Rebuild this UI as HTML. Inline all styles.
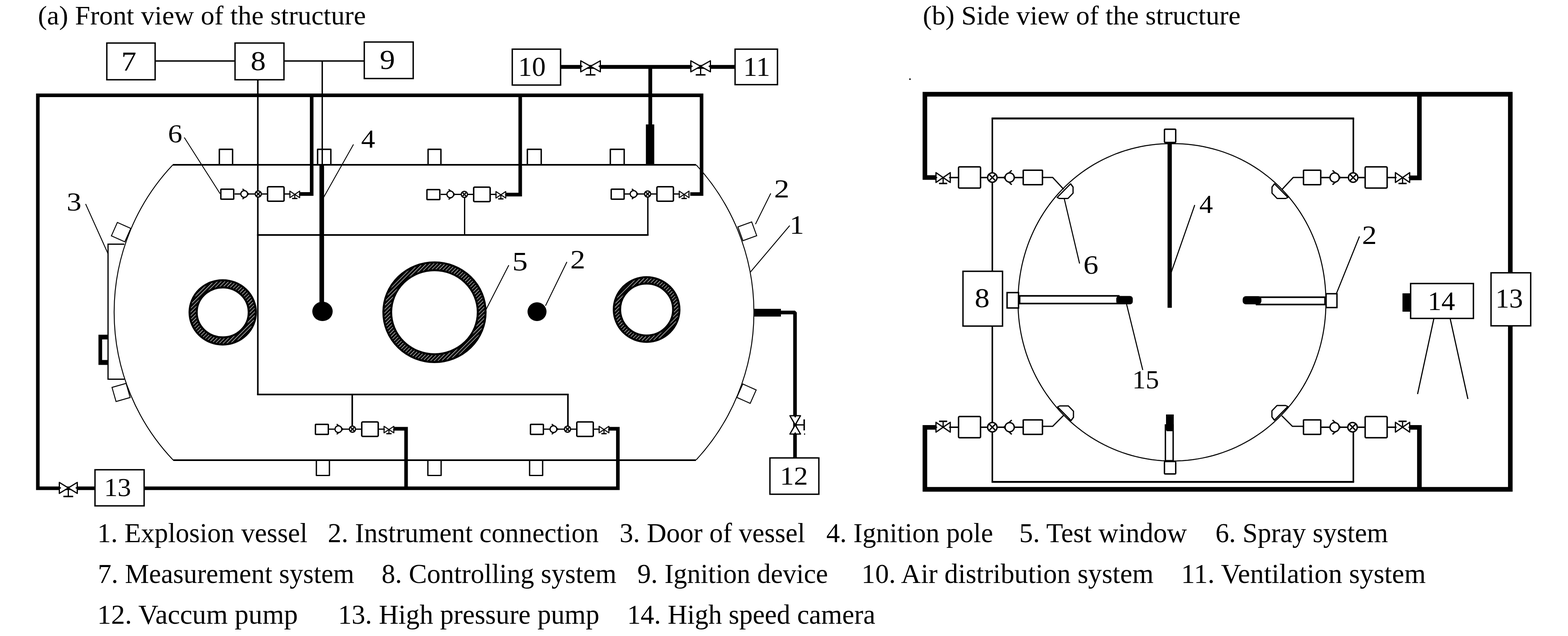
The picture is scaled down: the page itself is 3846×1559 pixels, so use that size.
<!DOCTYPE html>
<html><head><meta charset="utf-8"><title>Structure of the explosion vessel</title>
<style>
html,body{margin:0;padding:0;background:#fff;}
body{width:3846px;height:1559px;overflow:hidden;}
svg{display:block;}
text{stroke:none;fill:#000;font-family:"Liberation Serif",serif;}
</style></head>
<body>
<svg width="3846" height="1559" viewBox="0 0 3846 1559">
<defs>
<pattern id="hatch" width="6.5" height="6.5" patternUnits="userSpaceOnUse" patternTransform="rotate(-45)">
<rect x="0" y="0" width="6.5" height="6.5" fill="#000" stroke="none"/>
<rect x="0" y="0" width="6.5" height="1.1" fill="#fff" stroke="none"/>
</pattern>
</defs>
<rect x="0" y="0" width="3846" height="1559" fill="#fff"/>
<g stroke="#000" fill="none">
<text x="93.06" y="60" font-size="66.4" textLength="804.28" lengthAdjust="spacingAndGlyphs">(a) Front view of the structure</text>
<text x="2263.57" y="60" font-size="66.4" textLength="779.26" lengthAdjust="spacingAndGlyphs">(b) Side view of the structure</text>
<line x1="381" y1="149.5" x2="576" y2="149.5" stroke-width="3.4"/>
<line x1="697" y1="149.5" x2="893" y2="149.5" stroke-width="3.4"/>
<line x1="632.4" y1="196" x2="632.4" y2="967" stroke-width="3.8"/>
<line x1="790.4" y1="149.5" x2="790.4" y2="403" stroke-width="3.4"/>
<line x1="630.5" y1="576" x2="1590.8" y2="576" stroke-width="3.8"/>
<line x1="1589" y1="477" x2="1589" y2="576" stroke-width="3.4"/>
<line x1="1139.6" y1="477" x2="1139.6" y2="576" stroke-width="3.1"/>
<line x1="630.5" y1="967" x2="1394.9" y2="967" stroke-width="3.8"/>
<line x1="1393" y1="967" x2="1393" y2="1052" stroke-width="3.8"/>
<line x1="864" y1="967" x2="864" y2="1052" stroke-width="3.9"/>
<path d="M424 404 A525.6 525.6 0 0 0 425 1128 M1707.5 404 A532.6 532.6 0 0 1 1707.5 1127.5" stroke-width="2.3"/>
<line x1="424" y1="404" x2="1707" y2="404" stroke-width="3.9"/>
<line x1="425" y1="1128" x2="1707" y2="1128" stroke-width="3.9"/>
<path d="M538 403 L538 366 L570.5 366 L570.5 403" stroke-width="3.4" stroke-linejoin="round"/>
<path d="M779 403 L779 366 L811.5 366 L811.5 403" stroke-width="3.4" stroke-linejoin="round"/>
<path d="M1050 403 L1050 366 L1081.5 366 L1081.5 403" stroke-width="3.4" stroke-linejoin="round"/>
<path d="M1293.5 403 L1293.5 366 L1327.5 366 L1327.5 403" stroke-width="3.4" stroke-linejoin="round"/>
<path d="M1497 403 L1497 366 L1531 366 L1531 403" stroke-width="3.4" stroke-linejoin="round"/>
<path d="M776 1128 L776 1165.5 L808 1165.5 L808 1128" stroke-width="3.2" stroke-linejoin="round"/>
<path d="M1049.5 1128 L1049.5 1165.5 L1082 1165.5 L1082 1128" stroke-width="3.2" stroke-linejoin="round"/>
<path d="M1299 1128 L1299 1165.5 L1331 1165.5 L1331 1128" stroke-width="3.2" stroke-linejoin="round"/>
<path d="M354 1196.8 L1515.5 1196.8 L1515.5 1051 L1494 1051" stroke-width="8.8"/>
<path d="M996 1196.8 L996 1051 L966.5 1051" stroke-width="8.8"/>
<path d="M232 1196.8 L92.8 1196.8 L92.8 233.6 L1720.8 233.6 L1720.8 475.7 L1693 475.7" stroke-width="8.8"/>
<path d="M764.5 233.5 L764.5 475.5 L736 475.5" stroke-width="8.8"/>
<path d="M1276 233.5 L1276 477 L1242 477" stroke-width="8.8"/>
<path d="M145.5 1182.5 L145.5 1209.5 L189.5 1182.5 L189.5 1209.5 Z" stroke-width="3" stroke-linejoin="round" fill="#fff"/>
<line x1="167.5" y1="1196" x2="167.5" y2="1217" stroke-width="3"/>
<line x1="155.5" y1="1217" x2="179.5" y2="1217" stroke-width="3.6"/>
<path d="M144.5 1191.6 L150.34 1196 L144.5 1200.4 Z M190.5 1191.6 L184.66 1196 L190.5 1200.4 Z" fill="#000" stroke="none"/>
<rect x="233" y="1151.5" width="120.5" height="88.5" stroke-width="3.4" fill="#fff"/>
<text x="255.15" y="1216.37" font-size="63.24" textLength="66.44" lengthAdjust="spacingAndGlyphs">13</text>
<line x1="1375.5" y1="164" x2="1803" y2="164" stroke-width="9.3"/>
<line x1="1595" y1="164" x2="1595" y2="403" stroke-width="9.3"/>
<line x1="1594.5" y1="305" x2="1594.5" y2="405" stroke-width="20.5"/>
<path d="M1424.5 149 L1424.5 176 L1472.5 149 L1472.5 176 Z" stroke-width="3" stroke-linejoin="round" fill="#fff"/>
<line x1="1448.5" y1="162.5" x2="1448.5" y2="183.5" stroke-width="3"/>
<line x1="1436.5" y1="183.5" x2="1460.5" y2="183.5" stroke-width="3.6"/>
<path d="M1423.5 157.85 L1429.62 162.5 L1423.5 167.15 Z M1473.5 157.85 L1467.38 162.5 L1473.5 167.15 Z" fill="#000" stroke="none"/>
<path d="M1694.5 149 L1694.5 176 L1742.5 149 L1742.5 176 Z" stroke-width="3" stroke-linejoin="round" fill="#fff"/>
<line x1="1718.5" y1="162.5" x2="1718.5" y2="183.5" stroke-width="3"/>
<line x1="1706.5" y1="183.5" x2="1730.5" y2="183.5" stroke-width="3.6"/>
<path d="M1693.5 157.85 L1699.62 162.5 L1693.5 167.15 Z M1743.5 157.85 L1737.38 162.5 L1743.5 167.15 Z" fill="#000" stroke="none"/>
<rect x="1256.5" y="120.5" width="118.5" height="88" stroke-width="3.4" fill="#fff"/>
<text x="1271.06" y="186.32" font-size="68.15" textLength="67.51" lengthAdjust="spacingAndGlyphs">10</text>
<rect x="1803" y="120.5" width="104" height="87" stroke-width="3.4" fill="#fff"/>
<text x="1822.95" y="186" font-size="68.18" textLength="66.16" lengthAdjust="spacingAndGlyphs">11</text>
<rect x="262" y="105.5" width="118.5" height="90" stroke-width="3.4" fill="#fff"/>
<text x="297.61" y="172.5" font-size="68.7" textLength="37.04" lengthAdjust="spacingAndGlyphs">7</text>
<rect x="576.5" y="105.5" width="120" height="90" stroke-width="3.4" fill="#fff"/>
<text x="614.68" y="171.83" font-size="66.67" textLength="37.15" lengthAdjust="spacingAndGlyphs">8</text>
<rect x="893.5" y="103" width="120" height="89.5" stroke-width="3.4" fill="#fff"/>
<text x="931.6" y="169.33" font-size="66.96" textLength="37.47" lengthAdjust="spacingAndGlyphs">9</text>
<line x1="789.2" y1="403" x2="789.2" y2="764" stroke-width="11.3"/>
<ellipse cx="791" cy="763.3" rx="25" ry="23.8" fill="#000" stroke="none"/>
<line x1="575.5" y1="475.5" x2="711.5" y2="475.5" stroke-width="3.2"/>
<rect x="541.7" y="463.7" width="31.6" height="24.6" stroke-width="3.4" fill="#fff" rx="1.5"/>
<path d="M594.85 463.05 L610 475.5 L594.85 487.95" stroke-width="3" stroke-linejoin="round"/>
<circle cx="599" cy="475.5" r="8.3" stroke-width="3" fill="#fff"/>
<circle cx="633.5" cy="475.5" r="7.6" stroke-width="3" fill="#fff"/>
<line x1="628.13" y1="470.13" x2="638.87" y2="480.87" stroke-width="3"/>
<line x1="628.13" y1="480.87" x2="638.87" y2="470.13" stroke-width="3"/>
<rect x="656.3" y="457.8" width="40.4" height="35.4" stroke-width="3.6" fill="#fff" rx="2.5"/>
<path d="M711 468.5 L711 484.5 L735 468.5 L735 484.5 Z" stroke-width="2.6" stroke-linejoin="round" fill="#fff"/>
<line x1="723" y1="476.5" x2="723" y2="486.5" stroke-width="2.6"/>
<line x1="716.5" y1="486.5" x2="729.5" y2="486.5" stroke-width="3.2"/>
<path d="M710 474 L713.75 476.5 L710 479 Z M736 474 L732.25 476.5 L736 479 Z" fill="#000" stroke="none"/>
<line x1="1081" y1="476.5" x2="1217" y2="476.5" stroke-width="3.2"/>
<rect x="1047.2" y="464.7" width="31.6" height="24.6" stroke-width="3.4" fill="#fff" rx="1.5"/>
<path d="M1100.35 464.05 L1115.5 476.5 L1100.35 488.95" stroke-width="3" stroke-linejoin="round"/>
<circle cx="1104.5" cy="476.5" r="8.3" stroke-width="3" fill="#fff"/>
<circle cx="1139" cy="476.5" r="7.6" stroke-width="3" fill="#fff"/>
<line x1="1133.63" y1="471.13" x2="1144.37" y2="481.87" stroke-width="3"/>
<line x1="1133.63" y1="481.87" x2="1144.37" y2="471.13" stroke-width="3"/>
<rect x="1161.8" y="458.8" width="40.4" height="35.4" stroke-width="3.6" fill="#fff" rx="2.5"/>
<path d="M1216.5 469.5 L1216.5 485.5 L1240.5 469.5 L1240.5 485.5 Z" stroke-width="2.6" stroke-linejoin="round" fill="#fff"/>
<line x1="1228.5" y1="477.5" x2="1228.5" y2="487.5" stroke-width="2.6"/>
<line x1="1222" y1="487.5" x2="1235" y2="487.5" stroke-width="3.2"/>
<path d="M1215.5 475 L1219.25 477.5 L1215.5 480 Z M1241.5 475 L1237.75 477.5 L1241.5 480 Z" fill="#000" stroke="none"/>
<line x1="1530.5" y1="475.5" x2="1666.5" y2="475.5" stroke-width="3.2"/>
<rect x="1499.2" y="463.7" width="31.6" height="24.6" stroke-width="3.4" fill="#fff" rx="1.5"/>
<path d="M1549.85 463.05 L1565 475.5 L1549.85 487.95" stroke-width="3" stroke-linejoin="round"/>
<circle cx="1554" cy="475.5" r="8.3" stroke-width="3" fill="#fff"/>
<circle cx="1588.5" cy="475.5" r="7.6" stroke-width="3" fill="#fff"/>
<line x1="1583.13" y1="470.13" x2="1593.87" y2="480.87" stroke-width="3"/>
<line x1="1583.13" y1="480.87" x2="1593.87" y2="470.13" stroke-width="3"/>
<rect x="1611.3" y="457.8" width="40.4" height="35.4" stroke-width="3.6" fill="#fff" rx="2.5"/>
<path d="M1666 468.5 L1666 484.5 L1690 468.5 L1690 484.5 Z" stroke-width="2.6" stroke-linejoin="round" fill="#fff"/>
<line x1="1678" y1="476.5" x2="1678" y2="486.5" stroke-width="2.6"/>
<line x1="1671.5" y1="486.5" x2="1684.5" y2="486.5" stroke-width="3.2"/>
<path d="M1665 474 L1668.75 476.5 L1665 479 Z M1691 474 L1687.25 476.5 L1691 479 Z" fill="#000" stroke="none"/>
<line x1="806.5" y1="1052" x2="942.5" y2="1052" stroke-width="3.2"/>
<rect x="773.7" y="1040.2" width="31.6" height="24.6" stroke-width="3.4" fill="#fff" rx="1.5"/>
<path d="M825.85 1039.55 L841 1052 L825.85 1064.45" stroke-width="3" stroke-linejoin="round"/>
<circle cx="830" cy="1052" r="8.3" stroke-width="3" fill="#fff"/>
<circle cx="864.5" cy="1052" r="7.6" stroke-width="3" fill="#fff"/>
<line x1="859.13" y1="1046.63" x2="869.87" y2="1057.37" stroke-width="3"/>
<line x1="859.13" y1="1057.37" x2="869.87" y2="1046.63" stroke-width="3"/>
<rect x="887.3" y="1034.3" width="40.4" height="35.4" stroke-width="3.6" fill="#fff" rx="2.5"/>
<path d="M942 1045 L942 1061 L966 1045 L966 1061 Z" stroke-width="2.6" stroke-linejoin="round" fill="#fff"/>
<line x1="954" y1="1053" x2="954" y2="1063" stroke-width="2.6"/>
<line x1="947.5" y1="1063" x2="960.5" y2="1063" stroke-width="3.2"/>
<path d="M941 1050.5 L944.75 1053 L941 1055.5 Z M967 1050.5 L963.25 1053 L967 1055.5 Z" fill="#000" stroke="none"/>
<line x1="1334" y1="1052" x2="1470" y2="1052" stroke-width="3.2"/>
<rect x="1301.2" y="1040.2" width="31.6" height="24.6" stroke-width="3.4" fill="#fff" rx="1.5"/>
<path d="M1353.35 1039.55 L1368.5 1052 L1353.35 1064.45" stroke-width="3" stroke-linejoin="round"/>
<circle cx="1357.5" cy="1052" r="8.3" stroke-width="3" fill="#fff"/>
<circle cx="1392" cy="1052" r="7.6" stroke-width="3" fill="#fff"/>
<line x1="1386.63" y1="1046.63" x2="1397.37" y2="1057.37" stroke-width="3"/>
<line x1="1386.63" y1="1057.37" x2="1397.37" y2="1046.63" stroke-width="3"/>
<rect x="1414.8" y="1034.3" width="40.4" height="35.4" stroke-width="3.6" fill="#fff" rx="2.5"/>
<path d="M1469.5 1045 L1469.5 1061 L1493.5 1045 L1493.5 1061 Z" stroke-width="2.6" stroke-linejoin="round" fill="#fff"/>
<line x1="1481.5" y1="1053" x2="1481.5" y2="1063" stroke-width="2.6"/>
<line x1="1475" y1="1063" x2="1488" y2="1063" stroke-width="3.2"/>
<path d="M1468.5 1050.5 L1472.25 1053 L1468.5 1055.5 Z M1494.5 1050.5 L1490.75 1053 L1494.5 1055.5 Z" fill="#000" stroke="none"/>
<path d="M305 598.5 L265 598.5 L265 929.5 L305 929.5" stroke-width="3"/>
<path d="M241.5 820.5 H265 V832 H250.5 V882.5 H265 V894.5 H241.5 Z" fill="#000" stroke="none"/>
<rect x="-18.0" y="-18.0" width="36" height="36" transform="translate(297 569) rotate(24)" stroke-width="2.3" fill="#fff"/>
<rect x="-18.0" y="-18.0" width="36" height="36" transform="translate(297 962) rotate(-16)" stroke-width="2.3" fill="#fff"/>
<rect x="-18.0" y="-18.0" width="36" height="36" transform="translate(1833 567) rotate(-20)" stroke-width="2.3" fill="#fff"/>
<rect x="-18.0" y="-18.0" width="36" height="36" transform="translate(1831 965) rotate(24)" stroke-width="2.3" fill="#fff"/>
<ellipse cx="546.3" cy="765.7" rx="72.55" ry="70.05" stroke-width="22.5"/>
<ellipse cx="546.3" cy="765.7" rx="72.55" ry="70.05" stroke="url(#hatch)" stroke-width="12.5"/>
<ellipse cx="1065.7" cy="765.3" rx="115.8" ry="112.6" stroke-width="24"/>
<ellipse cx="1065.7" cy="765.3" rx="115.8" ry="112.6" stroke="url(#hatch)" stroke-width="14"/>
<ellipse cx="1586" cy="758.7" rx="72.75" ry="71.45" stroke-width="20.5"/>
<ellipse cx="1586" cy="758.7" rx="72.75" ry="71.45" stroke="url(#hatch)" stroke-width="10.5"/>
<ellipse cx="1317.2" cy="764" rx="23.3" ry="23" fill="#000" stroke="none"/>
<line x1="1850" y1="766.5" x2="1915.5" y2="766.5" stroke-width="19"/>
<path d="M1910 766 L1950 766 L1950 1122" stroke-width="8.9" stroke-linejoin="bevel"/>
<path d="M1937.5 1019 L1963.5 1019 L1937.5 1064 L1963.5 1064 Z" stroke-width="3" stroke-linejoin="round" fill="#fff"/>
<line x1="1950.5" y1="1041.5" x2="1972.5" y2="1041.5" stroke-width="3"/>
<line x1="1972.5" y1="1028" x2="1972.5" y2="1055" stroke-width="3.6"/>
<path d="M1946.05 1018 L1950.5 1023.89 L1954.95 1018 Z M1946.05 1065 L1950.5 1059.11 L1954.95 1065 Z" fill="#000" stroke="none"/>
<rect x="1888.5" y="1122.5" width="120" height="89" stroke-width="3.4" fill="#fff"/>
<text x="1912.94" y="1188" font-size="63.44" textLength="68.84" lengthAdjust="spacingAndGlyphs">12</text>
<text x="411.98" y="349.36" font-size="63.99" textLength="35.13" lengthAdjust="spacingAndGlyphs">6</text>
<line x1="452" y1="337" x2="540" y2="475" stroke-width="2.2"/>
<text x="885.66" y="362" font-size="63.83" textLength="34.41" lengthAdjust="spacingAndGlyphs">4</text>
<line x1="867" y1="354" x2="792" y2="487" stroke-width="2.2"/>
<text x="163.51" y="516.38" font-size="62.5" textLength="36.32" lengthAdjust="spacingAndGlyphs">3</text>
<line x1="210" y1="500" x2="265" y2="622" stroke-width="2.2"/>
<text x="1256.61" y="662.85" font-size="65.41" textLength="37.84" lengthAdjust="spacingAndGlyphs">5</text>
<line x1="1248" y1="650" x2="1191" y2="761" stroke-width="2.2"/>
<text x="1398.76" y="658" font-size="65.71" textLength="36.78" lengthAdjust="spacingAndGlyphs">2</text>
<line x1="1390.5" y1="642" x2="1338" y2="749.5" stroke-width="2.2"/>
<text x="1936.75" y="573" font-size="65.91" textLength="35.51" lengthAdjust="spacingAndGlyphs">1</text>
<line x1="1937" y1="553" x2="1840.5" y2="667" stroke-width="2.2"/>
<text x="1898.71" y="484" font-size="62.69" textLength="37.41" lengthAdjust="spacingAndGlyphs">2</text>
<line x1="1890.5" y1="474" x2="1853" y2="549.5" stroke-width="2.2"/>
<line x1="2432.1" y1="290.4" x2="3321.4" y2="290.4" stroke-width="4.7"/>
<line x1="2432.1" y1="1181.2" x2="3321.4" y2="1181.2" stroke-width="4.6"/>
<line x1="2434" y1="290" x2="2434" y2="1181" stroke-width="3.8"/>
<line x1="3319.5" y1="290" x2="3319.5" y2="436" stroke-width="3.8"/>
<line x1="3319.5" y1="1047" x2="3319.5" y2="1181" stroke-width="3.8"/>
<path d="M3252.2 741 L3252 727.17 L3251.41 713.81 L3250.43 700.65 L3249.05 687.64 L3247.28 674.77 L3245.12 662.02 L3242.57 649.41 L3239.64 636.94 L3236.33 624.62 L3232.64 612.45 L3228.57 600.44 L3224.13 588.61 L3219.33 576.95 L3214.16 565.49 L3208.64 554.23 L3202.76 543.18 L3196.54 532.36 L3189.98 521.76 L3183.09 511.41 L3175.87 501.31 L3168.33 491.47 L3160.48 481.9 L3152.32 472.6 L3143.87 463.6 L3135.13 454.89 L3126.11 446.49 L3116.82 438.4 L3107.27 430.64 L3097.46 423.2 L3087.41 416.1 L3077.13 409.34 L3066.62 402.93 L3055.89 396.88 L3044.96 391.19 L3033.84 385.87 L3022.53 380.92 L3011.04 376.34 L2999.38 372.15 L2987.57 368.35 L2975.61 364.94 L2963.5 361.92 L2951.26 359.29 L2938.89 357.07 L2926.4 355.25 L2913.77 353.83 L2900.99 352.81 L2888.03 352.2 L2874.6 352 L2874.6 352 L2861.39 352.2 L2848.55 352.82 L2835.86 353.84 L2823.31 355.26 L2810.86 357.09 L2798.54 359.33 L2786.33 361.97 L2774.25 365 L2762.3 368.43 L2750.49 372.25 L2738.84 376.46 L2727.35 381.05 L2716.03 386.02 L2704.9 391.37 L2693.96 397.09 L2683.22 403.16 L2672.69 409.6 L2662.39 416.39 L2652.31 423.52 L2642.48 430.98 L2632.91 438.78 L2623.59 446.89 L2614.54 455.32 L2605.78 464.06 L2597.3 473.09 L2589.11 482.41 L2581.23 492.01 L2573.67 501.88 L2566.42 512 L2559.5 522.38 L2552.91 532.99 L2546.67 543.84 L2540.77 554.9 L2535.22 566.18 L2530.03 577.65 L2525.2 589.31 L2520.74 601.14 L2516.66 613.15 L2512.95 625.31 L2509.62 637.62 L2506.67 650.06 L2504.11 662.64 L2501.95 675.34 L2500.17 688.16 L2498.78 701.09 L2497.79 714.16 L2497.2 727.39 L2497 741 L2497 741 L2497.2 753.73 L2497.81 766.44 L2498.82 779.13 L2500.23 791.77 L2502.04 804.37 L2504.26 816.89 L2506.86 829.33 L2509.87 841.68 L2513.26 853.92 L2517.04 866.04 L2521.2 878.03 L2525.74 889.86 L2530.66 901.54 L2535.94 913.05 L2541.59 924.37 L2547.59 935.5 L2553.94 946.42 L2560.64 957.12 L2567.67 967.58 L2575.03 977.81 L2582.71 987.78 L2590.71 997.49 L2599 1006.92 L2607.6 1016.06 L2616.48 1024.92 L2625.63 1033.47 L2635.05 1041.7 L2644.73 1049.61 L2654.66 1057.2 L2664.82 1064.44 L2675.2 1071.34 L2685.8 1077.88 L2696.6 1084.07 L2707.59 1089.88 L2718.76 1095.33 L2730.1 1100.39 L2741.59 1105.07 L2753.22 1109.36 L2764.99 1113.25 L2776.87 1116.75 L2788.86 1119.84 L2800.93 1122.53 L2813.09 1124.8 L2825.31 1126.67 L2837.59 1128.13 L2849.9 1129.17 L2862.25 1129.79 L2874.6 1130 L2874.6 1130 L2887.6 1129.79 L2900.31 1129.18 L2912.9 1128.15 L2925.39 1126.72 L2937.78 1124.88 L2950.07 1122.63 L2962.24 1119.99 L2974.3 1116.94 L2986.23 1113.49 L2998.03 1109.65 L3009.68 1105.42 L3021.17 1100.81 L3032.49 1095.82 L3043.63 1090.45 L3054.59 1084.71 L3065.34 1078.6 L3075.89 1072.14 L3086.21 1065.33 L3096.31 1058.17 L3106.16 1050.67 L3115.76 1042.85 L3125.11 1034.7 L3134.18 1026.24 L3142.97 1017.48 L3151.48 1008.42 L3159.69 999.07 L3167.6 989.44 L3175.2 979.55 L3182.47 969.4 L3189.42 959 L3196.03 948.37 L3202.31 937.5 L3208.23 926.42 L3213.8 915.14 L3219.02 903.66 L3223.87 891.99 L3228.34 880.15 L3232.45 868.15 L3236.18 856 L3239.52 843.71 L3242.48 831.29 L3245.05 818.75 L3247.23 806.09 L3249.02 793.33 L3250.41 780.46 L3251.4 767.49 L3252 754.39 L3252.2 741 Z" stroke-width="2.5" stroke-linejoin="round"/>
<path d="M2296 435.2 L2268.6 435.2 L2268.6 231 L3704.5 231 L3704.5 1199.5 L2268.6 1199.5 L2268.6 1047.7 L2296 1047.7" stroke-width="11.3"/>
<path d="M3481.5 231 L3481.5 436 L3457 436" stroke-width="11.3"/>
<path d="M3481.5 1199.5 L3481.5 1047.7 L3457 1047.7" stroke-width="11.3"/>
<rect x="3657.2" y="668.7" width="97.3" height="130" stroke-width="3.4" fill="#fff"/>
<text x="3668.05" y="753.83" font-size="66.96" textLength="67.58" lengthAdjust="spacingAndGlyphs">13</text>
<rect x="2362" y="665" width="97" height="134.3" stroke-width="3.4" fill="#fff"/>
<text x="2390.72" y="753.33" font-size="66.67" textLength="36.56" lengthAdjust="spacingAndGlyphs">8</text>
<line x1="2313" y1="435.2" x2="2558.7" y2="435.2" stroke-width="3.4"/>
<rect x="2351.15" y="408.95" width="53.9" height="52" stroke-width="3.5" fill="#fff" rx="2.5"/>
<path d="M2295.8 423.2 L2295.8 447.2 L2330.8 423.2 L2330.8 447.2 Z" stroke-width="3" stroke-linejoin="round" fill="#fff"/>
<line x1="2313.3" y1="435.2" x2="2313.3" y2="449.7" stroke-width="3"/>
<line x1="2303.3" y1="449.7" x2="2323.3" y2="449.7" stroke-width="3.6"/>
<path d="M2294.8 431.7 L2299.65 435.2 L2294.8 438.7 Z M2331.8 431.7 L2326.95 435.2 L2331.8 438.7 Z" fill="#000" stroke="none"/>
<circle cx="2434" cy="435.2" r="11.6" stroke-width="3.2" fill="#fff"/>
<line x1="2425.8" y1="427" x2="2442.2" y2="443.4" stroke-width="3.2"/>
<line x1="2425.8" y1="443.4" x2="2442.2" y2="427" stroke-width="3.2"/>
<path d="M2481.59 417.69 L2462.32 435.2 L2481.59 452.71" stroke-width="3.2" stroke-linejoin="round"/>
<circle cx="2476.5" cy="435.2" r="11.3" stroke-width="3.2" fill="#fff"/>
<rect x="2509.75" y="417.25" width="47.2" height="35.5" stroke-width="3.5" fill="#fff" rx="1.5"/>
<line x1="2313" y1="1047.2" x2="2558.7" y2="1047.2" stroke-width="3.4"/>
<rect x="2351.15" y="1020.95" width="53.9" height="52" stroke-width="3.5" fill="#fff" rx="2.5"/>
<path d="M2295.8 1035.2 L2295.8 1059.2 L2330.8 1035.2 L2330.8 1059.2 Z" stroke-width="3" stroke-linejoin="round" fill="#fff"/>
<line x1="2313.3" y1="1047.2" x2="2313.3" y2="1032.7" stroke-width="3"/>
<line x1="2303.3" y1="1032.7" x2="2323.3" y2="1032.7" stroke-width="3.6"/>
<path d="M2294.8 1043.7 L2299.65 1047.2 L2294.8 1050.7 Z M2331.8 1043.7 L2326.95 1047.2 L2331.8 1050.7 Z" fill="#000" stroke="none"/>
<circle cx="2434" cy="1047.2" r="11.6" stroke-width="3.2" fill="#fff"/>
<line x1="2425.8" y1="1039" x2="2442.2" y2="1055.4" stroke-width="3.2"/>
<line x1="2425.8" y1="1055.4" x2="2442.2" y2="1039" stroke-width="3.2"/>
<path d="M2481.59 1029.68 L2462.32 1047.2 L2481.59 1064.72" stroke-width="3.2" stroke-linejoin="round"/>
<circle cx="2476.5" cy="1047.2" r="11.3" stroke-width="3.2" fill="#fff"/>
<rect x="2509.75" y="1029.25" width="47.2" height="35.5" stroke-width="3.5" fill="#fff" rx="1.5"/>
<line x1="3195.5" y1="435.2" x2="3440.5" y2="435.2" stroke-width="3.4"/>
<rect x="3348.45" y="408.95" width="53.9" height="52" stroke-width="3.5" fill="#fff" rx="2.5"/>
<path d="M3422.7 423.2 L3422.7 447.2 L3457.7 423.2 L3457.7 447.2 Z" stroke-width="3" stroke-linejoin="round" fill="#fff"/>
<line x1="3440.2" y1="435.2" x2="3440.2" y2="449.7" stroke-width="3"/>
<line x1="3430.2" y1="449.7" x2="3450.2" y2="449.7" stroke-width="3.6"/>
<path d="M3421.7 431.7 L3426.55 435.2 L3421.7 438.7 Z M3458.7 431.7 L3453.85 435.2 L3458.7 438.7 Z" fill="#000" stroke="none"/>
<circle cx="3319" cy="435.2" r="11.6" stroke-width="3.2" fill="#fff"/>
<line x1="3310.8" y1="427" x2="3327.2" y2="443.4" stroke-width="3.2"/>
<line x1="3310.8" y1="443.4" x2="3327.2" y2="427" stroke-width="3.2"/>
<path d="M3268.41 417.69 L3287.68 435.2 L3268.41 452.71" stroke-width="3.2" stroke-linejoin="round"/>
<circle cx="3273.5" cy="435.2" r="11.3" stroke-width="3.2" fill="#fff"/>
<rect x="3197.25" y="417.25" width="42.3" height="35.5" stroke-width="3.5" fill="#fff" rx="1.5"/>
<line x1="3195.5" y1="1047.2" x2="3440.5" y2="1047.2" stroke-width="3.4"/>
<rect x="3348.45" y="1020.95" width="53.9" height="52" stroke-width="3.5" fill="#fff" rx="2.5"/>
<path d="M3422.7 1035.2 L3422.7 1059.2 L3457.7 1035.2 L3457.7 1059.2 Z" stroke-width="3" stroke-linejoin="round" fill="#fff"/>
<line x1="3440.2" y1="1047.2" x2="3440.2" y2="1032.7" stroke-width="3"/>
<line x1="3430.2" y1="1032.7" x2="3450.2" y2="1032.7" stroke-width="3.6"/>
<path d="M3421.7 1043.7 L3426.55 1047.2 L3421.7 1050.7 Z M3458.7 1043.7 L3453.85 1047.2 L3458.7 1050.7 Z" fill="#000" stroke="none"/>
<circle cx="3317.5" cy="1047.2" r="11.6" stroke-width="3.2" fill="#fff"/>
<line x1="3309.3" y1="1039" x2="3325.7" y2="1055.4" stroke-width="3.2"/>
<line x1="3309.3" y1="1055.4" x2="3325.7" y2="1039" stroke-width="3.2"/>
<path d="M3268.41 1029.68 L3287.68 1047.2 L3268.41 1064.72" stroke-width="3.2" stroke-linejoin="round"/>
<circle cx="3273.5" cy="1047.2" r="11.3" stroke-width="3.2" fill="#fff"/>
<rect x="3197.25" y="1029.25" width="42.3" height="35.5" stroke-width="3.5" fill="#fff" rx="1.5"/>
<path d="M2558 435 L2582 435 L2609 464" stroke-width="3"/>
<path d="M3196 435 L3172 435 L3145 464" stroke-width="3"/>
<path d="M2558 1045 L2582 1045 L2609 1018" stroke-width="3"/>
<path d="M3196 1045 L3170 1045 L3144 1019" stroke-width="3"/>
<path d="M2593 484 L2626 450.5 L2632 458.5 L2632 473.5 L2619.5 486.5 L2598.5 486.5 Z" stroke-width="3" stroke-linejoin="round" fill="#fff"/>
<path d="M3159 484 L3126 450.5 L3120 458.5 L3120 473.5 L3132.5 486.5 L3153.5 486.5 Z" stroke-width="3" stroke-linejoin="round" fill="#fff"/>
<path d="M2594 997.5 L2627 1031 L2633 1023 L2633 1008 L2620.5 995 L2599.5 995 Z" stroke-width="3" stroke-linejoin="round" fill="#fff"/>
<path d="M3158.8 996.5 L3125.8 1030 L3119.8 1022 L3119.8 1007 L3132.3 994 L3153.3 994 Z" stroke-width="3" stroke-linejoin="round" fill="#fff"/>
<rect x="2856.2" y="316.7" width="27.6" height="32.6" stroke-width="3.4" fill="#fff" rx="2"/>
<line x1="2869" y1="350" x2="2869" y2="754.5" stroke-width="10.5"/>
<rect x="2856.2" y="1131.2" width="27.6" height="30.6" stroke-width="3.4" fill="#fff" rx="2"/>
<rect x="2858.5" y="1041.7" width="19" height="87.6" stroke-width="3.4" fill="#fff"/>
<path d="M2860 1016 H2879 V1057 H2862 L2860 1054 V1042 H2857 V1041 H2860 Z" fill="#000" stroke="none"/>
<rect x="2470.15" y="717.25" width="28.1" height="37.7" stroke-width="3.5" fill="#fff"/>
<rect x="2500.95" y="725.25" width="243.1" height="18.8" stroke-width="3.9" fill="#fff"/>
<rect x="2738" y="725.5" width="40.5" height="20.5" rx="7" fill="#000" stroke="none"/>
<rect x="3081.95" y="728.55" width="168.1" height="17.9" stroke-width="3.9" fill="#fff"/>
<rect x="3048" y="726" width="46" height="20" rx="8" fill="#000" stroke="none"/>
<rect x="3252.7" y="720" width="26.6" height="33.9" stroke-width="3.4" fill="#fff"/>
<rect x="3440.5" y="719.5" width="19.5" height="44" stroke-width="1" fill="#000"/>
<rect x="3460" y="695" width="154" height="85.5" stroke-width="3.4" fill="#fff"/>
<text x="3502.11" y="759.5" font-size="65.91" textLength="66.93" lengthAdjust="spacingAndGlyphs">14</text>
<line x1="3517" y1="781" x2="3477" y2="966" stroke-width="2.8000000000000003"/>
<line x1="3557" y1="781" x2="3600.5" y2="978" stroke-width="2.8000000000000003"/>
<text x="2941.7" y="522" font-size="63.83" textLength="33.33" lengthAdjust="spacingAndGlyphs">4</text>
<line x1="2930.5" y1="502.5" x2="2873" y2="667" stroke-width="2.6"/>
<text x="2657.33" y="671.35" font-size="65.48" textLength="36.89" lengthAdjust="spacingAndGlyphs">6</text>
<line x1="2648" y1="646" x2="2610.5" y2="487.5" stroke-width="2.6"/>
<text x="2777.2" y="952.37" font-size="62.69" textLength="65.86" lengthAdjust="spacingAndGlyphs">15</text>
<line x1="2803" y1="907" x2="2763" y2="744.5" stroke-width="2.6"/>
<text x="3340.82" y="598" font-size="65.71" textLength="36.16" lengthAdjust="spacingAndGlyphs">2</text>
<line x1="3334.5" y1="579.5" x2="3278" y2="719.5" stroke-width="2.6"/>
<circle cx="2232" cy="194" r="1.5" stroke-width="1" fill="#000"/>
<circle cx="1973.5" cy="1064" r="1.2" stroke-width="1" fill="#000"/>
<text x="238.64" y="1328.5" font-size="66.6" textLength="515.69" lengthAdjust="spacingAndGlyphs">1. Explosion vessel</text>
<text x="804.07" y="1328.5" font-size="66.6" textLength="664.42" lengthAdjust="spacingAndGlyphs">2. Instrument connection</text>
<text x="1519.8" y="1328.5" font-size="66.6" textLength="455.03" lengthAdjust="spacingAndGlyphs">3. Door of vessel</text>
<text x="2026.7" y="1328.5" font-size="66.6" textLength="409.11" lengthAdjust="spacingAndGlyphs">4. Ignition pole</text>
<text x="2500.09" y="1328.5" font-size="66.6" textLength="411.17" lengthAdjust="spacingAndGlyphs">5. Test window</text>
<text x="2981.14" y="1328.5" font-size="66.6" textLength="423.42" lengthAdjust="spacingAndGlyphs">6. Spray system</text>
<text x="240.12" y="1428.5" font-size="66.6" textLength="628.93" lengthAdjust="spacingAndGlyphs">7. Measurement system</text>
<text x="935.97" y="1428.5" font-size="66.6" textLength="576.08" lengthAdjust="spacingAndGlyphs">8. Controlling system</text>
<text x="1563.37" y="1428.5" font-size="66.6" textLength="467.45" lengthAdjust="spacingAndGlyphs">9. Ignition device</text>
<text x="2113.09" y="1428.5" font-size="66.6" textLength="716.49" lengthAdjust="spacingAndGlyphs">10. Air distribution system</text>
<text x="2897.04" y="1428.5" font-size="66.6" textLength="600.04" lengthAdjust="spacingAndGlyphs">11. Ventilation system</text>
<text x="238.51" y="1528.5" font-size="66.6" textLength="492.14" lengthAdjust="spacingAndGlyphs">12. Vaccum pump</text>
<text x="829.13" y="1528.5" font-size="66.6" textLength="640.96" lengthAdjust="spacingAndGlyphs">13. High pressure pump</text>
<text x="1538.15" y="1528.5" font-size="66.6" textLength="608.75" lengthAdjust="spacingAndGlyphs">14. High speed camera</text>
</g>
</svg>
</body></html>
